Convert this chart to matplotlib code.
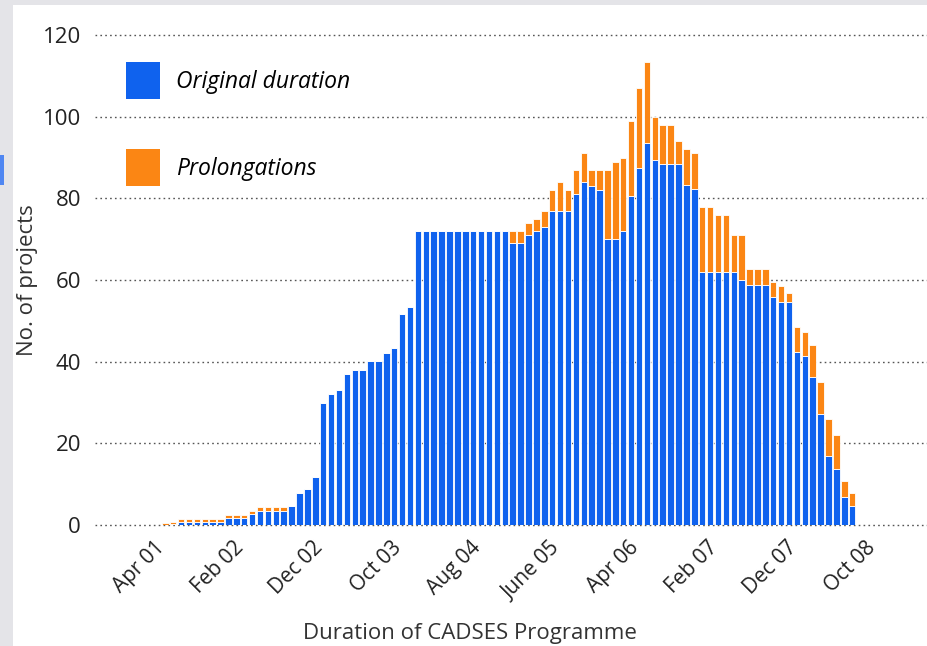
import matplotlib
matplotlib.use('Agg')
import matplotlib.pyplot as plt
from matplotlib.patches import Rectangle, Patch
from matplotlib.transforms import ScaledTranslation
import numpy as np

# Monthly number of projects, one bar per month starting Apr 01
original = [
    0, 0.3, 0.7, 0.7, 0.7, 0.7, 0.7, 0.7, 1.6, 1.6,
    1.6, 2.6, 3.5, 3.5, 3.5, 3.5, 4.6, 7.8, 8.7, 11.7,
    30, 32, 33, 37, 38, 38, 40.2, 40.2, 42.2, 43.3,
    51.6, 53.5, 72, 72, 72, 72, 72, 72, 72, 72,
    72, 72, 72, 72, 69, 69, 71, 72, 73, 77,
    77, 77, 81, 84, 83, 82, 70, 70, 72, 80.5,
    87.5, 93.5, 89.5, 88.3, 88.3, 88.3, 83.3, 82.2, 62, 62,
    62, 62, 62, 60, 58.7, 58.7, 58.7, 55.8, 54.7, 54.7,
    42.4, 41.5, 36.3, 27.1, 17, 13.8, 6.8, 4.7,
]
prolongations = [
    0.5, 0.5, 0.8, 0.8, 0.8, 0.8, 0.8, 0.8, 0.8, 0.8,
    0.8, 0.8, 1, 1, 1, 1, 0, 0, 0, 0,
    0, 0, 0, 0, 0, 0, 0, 0, 0, 0,
    0, 0, 0, 0, 0, 0, 0, 0, 0, 0,
    0, 0, 0, 0, 3, 3, 3, 3, 4, 5,
    7, 5, 6, 7, 4, 5, 17, 19, 18, 18.5,
    19.5, 20, 10.5, 9.7, 9.7, 5.7, 8.7, 8.8, 16, 16,
    14, 14, 9, 11, 3.9, 3.9, 3.9, 3.8, 3.9, 2,
    6.1, 5.8, 7.9, 8, 9, 8.2, 4, 3.1,
]
tick_months = [0, 10, 20, 30, 40, 50, 60, 70, 80, 90]
tick_labels = ['Apr 01', 'Feb 02', 'Dec 02', 'Oct 03', 'Aug 04',
               'June 05', 'Apr 06', 'Feb 07', 'Dec 07', 'Oct 08']

BLUE = '#0F62EE'
ORANGE = '#FB8614'
FONT = ['Open Sans', 'DejaVu Sans']
plt.rcParams['font.family'] = FONT

fig = plt.figure(figsize=(9.28, 6.46), dpi=100, facecolor='#E4E4E8')
# white page panel behind the chart
fig.patches.append(Rectangle((13 / 928, 0), 1, 1 - 5 / 646, transform=fig.transFigure,
                             facecolor='white', edgecolor='none', zorder=-10))
fig.patches.append(Rectangle((0, 1 - 185 / 646), 4 / 928, 30 / 646, transform=fig.transFigure,
                             facecolor='#4F86F2', edgecolor='none', zorder=-10))

ax = fig.add_axes([95 / 928, 121 / 646, 833 / 928, 490 / 646])
ax.set_facecolor('none')

x = np.arange(len(original))
ax.bar(x, original, width=0.82, color=BLUE, edgecolor='white', linewidth=0.6, zorder=3)
ax.bar(x, prolongations, bottom=original, width=0.82, color=ORANGE,
       edgecolor='white', linewidth=0.6, zorder=3)

ax.set_xlim(-8.9, 96.6)
ax.set_ylim(0, 120)
ax.set_yticks([0, 20, 40, 60, 80, 100, 120])
ax.yaxis.grid(True, linestyle=(0, (1.2, 2.3)), color='#555555', linewidth=1.0, zorder=1)
ax.set_axisbelow(True)
for s in ax.spines.values():
    s.set_visible(False)
for gl in ax.get_ygridlines():
    gl.set_clip_on(False)

ax.tick_params(axis='y', length=0, pad=10, labelsize=16, labelcolor='#222222')
ax.set_xticks(tick_months)
ax.set_xticklabels(tick_labels, rotation=45, ha='right', va='top',
                   rotation_mode='anchor', fontsize=15, color='#222222')
ax.tick_params(axis='x', length=0, pad=9)
# labels sit a little left of their month
shift = ScaledTranslation(-11 / 100, 0, fig.dpi_scale_trans)
for lbl in ax.get_xticklabels():
    lbl.set_transform(lbl.get_transform() + shift)

ax.set_ylabel('No. of projects', fontsize=16, color='#333333')
ax.yaxis.set_label_coords(-0.068, 0.5)
ax.set_xlabel('Duration of CADSES Programme', fontsize=16, color='#333333')
ax.xaxis.set_label_coords(0.45, -0.2)

handles = [Patch(facecolor=BLUE, edgecolor='none'), Patch(facecolor=ORANGE, edgecolor='none')]
leg = ax.legend(handles, ['Original duration', 'Prolongations'],
                loc='upper left', bbox_to_anchor=(126 / 928, 1 - 62 / 646),
                bbox_transform=fig.transFigure,
                frameon=False, handlelength=1.5, handleheight=2.1,
                handletextpad=0.7, labelspacing=2.2, borderpad=0, borderaxespad=0,
                prop={'family': FONT, 'style': 'italic', 'size': 16.5})

fig.savefig('out.png', dpi=100, facecolor=fig.get_facecolor())
